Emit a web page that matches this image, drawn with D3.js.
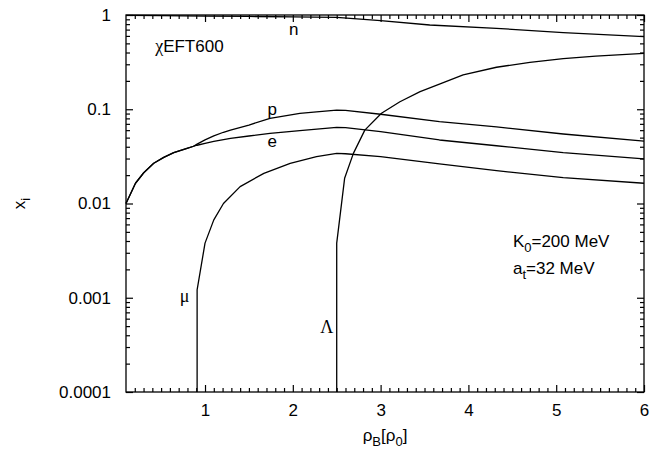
<!DOCTYPE html>
<html>
<head>
<meta charset="utf-8">
<script src="https://cdn.jsdelivr.net/npm/d3@7"></script>
<style>
    body { margin: 0; background: #fff; }
</style>
</head>
<body>
<div class="svg-container"></div>
<script>
// data (rho_B in units of rho_0, particle fractions x_i)
var nX = [0.1, 0.5, 1.0, 1.5, 2.0, 2.5, 3.0, 3.56, 4.32, 5.08, 6.0];
var nY = [0.99, 0.985, 0.975, 0.965, 0.955, 0.945, 0.87, 0.783, 0.722, 0.649, 0.589];

var pX = [0.1, 0.208, 0.302, 0.416, 0.53, 0.644, 0.795, 0.87, 0.91, 1.0, 1.1, 1.21, 1.29, 1.5, 1.74, 2.08, 2.27, 2.5, 2.6, 3.0, 3.67, 4.32, 5.08, 6.0];
var pY = [0.01, 0.0164, 0.0212, 0.0267, 0.0309, 0.0346, 0.0385, 0.0405, 0.0427, 0.0473, 0.0522, 0.057, 0.0602, 0.068, 0.080, 0.0906, 0.094, 0.098, 0.0975, 0.0885, 0.0738, 0.065, 0.0546, 0.046];

var eX = [0.1, 0.208, 0.302, 0.416, 0.53, 0.644, 0.795, 0.87, 0.91, 1.0, 1.1, 1.29, 1.5, 1.74, 2.08, 2.5, 2.6, 3.0, 3.67, 4.32, 5.08, 6.0];
var eY = [0.01, 0.0164, 0.0212, 0.0267, 0.0309, 0.0346, 0.0385, 0.0405, 0.0415, 0.0435, 0.0455, 0.0492, 0.052, 0.0556, 0.0593, 0.0643, 0.0638, 0.0578, 0.0472, 0.041, 0.0346, 0.0297];

var muX = [0.91, 0.91, 1.0, 1.1, 1.21, 1.4, 1.67, 1.97, 2.27, 2.5, 2.6, 3.0, 3.67, 4.32, 5.08, 6.0];
var muY = [0.0001, 0.00121, 0.0038, 0.0067, 0.010, 0.0151, 0.0209, 0.0267, 0.0314, 0.034, 0.0337, 0.0314, 0.0263, 0.0223, 0.0188, 0.0164];

var lamX = [2.5, 2.5, 2.59, 2.69, 2.82, 3.01, 3.22, 3.45, 3.67, 3.94, 4.32, 4.7, 5.08, 5.45, 6.0];
var lamY = [0.0001, 0.0038, 0.0185, 0.034, 0.060, 0.0906, 0.120, 0.154, 0.185, 0.231, 0.279, 0.315, 0.344, 0.367, 0.392];

var xTicks = [1, 2, 3, 4, 5, 6];
var yTicks = [0.0001, 0.001, 0.01, 0.1, 1];
var yTickLabels = ["0.0001", "0.001", "0.01", "0.1", "1"];

// curve labels, placed in data units
var curveLabels = [
    {text: "n", x: 2.01, y: 0.613, greek: false},
    {text: "p", x: 1.765, y: 0.0869, greek: false},
    {text: "e", x: 1.765, y: 0.0401, greek: false},
    {text: "\u03bc", x: 0.768, y: 0.0009, greek: true},
    {text: "\u039b", x: 2.386, y: 0.00042, greek: true}
];

var sans = "'Liberation Sans', Arial, sans-serif",
    serif = "'Liberation Serif', 'DejaVu Serif', serif";

// set up margin
var margin = {top: 15, right: 10, bottom: 59, left: 126},
    width = 654 - margin.left - margin.right,
    height = 451 - margin.top - margin.bottom;

var svg = d3.select(".svg-container").append("svg")
    .attr("width", width + margin.left + margin.right)
    .attr("height", height + margin.top + margin.bottom);

var g = svg.append("g")
    .attr("transform", "translate(" + margin.left + "," + margin.top + ")");

var xScale = d3.scaleLinear().domain([0.1, 6]).range([0, width]);
var yScale = d3.scaleLog().domain([0.0001, 1]).range([height, 0]);

// minor ticks: every 0.1 on x, 2..9 per decade on y
var xMinor = d3.range(2, 60).map(function (i) { return i / 10; })
    .filter(function (v) { return Math.abs(v - Math.round(v)) > 1e-6; });
var yMinor = [];
[0.0001, 0.001, 0.01, 0.1].forEach(function (dec) {
    for (var k = 2; k <= 9; k++) yMinor.push(dec * k);
});

// frame
g.append("rect")
    .attr("width", width)
    .attr("height", height)
    .attr("fill", "none")
    .attr("stroke", "#000")
    .attr("stroke-width", 1.3);

// major + minor ticks on all four sides, pointing inward
function addAxis(axis, tx, ty) {
    var a = g.append("g")
        .attr("transform", "translate(" + tx + "," + ty + ")")
        .call(axis);
    a.select(".domain").remove();
    a.selectAll(".tick line").attr("stroke", "#000").attr("stroke-width", 1.2);
    a.selectAll(".tick text")
        .attr("fill", "#000")
        .attr("font-family", sans)
        .attr("font-size", 17);
    return a;
}

addAxis(d3.axisBottom(xScale).tickValues(xMinor).tickSizeInner(-4).tickSizeOuter(0).tickFormat(""), 0, height);
addAxis(d3.axisTop(xScale).tickValues(xMinor).tickSizeInner(-4).tickSizeOuter(0).tickFormat(""), 0, 0);
addAxis(d3.axisLeft(yScale).tickValues(yMinor).tickSizeInner(-4).tickSizeOuter(0).tickFormat(""), 0, 0);
addAxis(d3.axisRight(yScale).tickValues(yMinor).tickSizeInner(-4).tickSizeOuter(0).tickFormat(""), width, 0);

addAxis(d3.axisBottom(xScale).tickValues(xTicks).tickSizeInner(-7).tickSizeOuter(0).tickPadding(12)
    .tickFormat(d3.format("d")), 0, height);
addAxis(d3.axisTop(xScale).tickValues(xTicks).tickSizeInner(-7).tickSizeOuter(0).tickFormat(""), 0, 0);
addAxis(d3.axisLeft(yScale).tickValues(yTicks).tickSizeInner(-7).tickSizeOuter(0).tickPadding(15)
    .tickFormat(function (d, i) { return yTickLabels[i]; }), 0, 0);
addAxis(d3.axisRight(yScale).tickValues(yTicks).tickSizeInner(-7).tickSizeOuter(0).tickFormat(""), width, 0);

var line = d3.line()
    .x(function (d) { return xScale(d[0]); })
    .y(function (d) { return yScale(d[1]); });

function zip(xs, ys) {
    return xs.map(function (x, i) { return [x, ys[i]]; });
}

var series = [zip(nX, nY), zip(pX, pY), zip(eX, eY), zip(muX, muY), zip(lamX, lamY)];

g.selectAll(".curve")
    .data(series)
    .enter().append("path")
    .attr("class", "curve")
    .attr("fill", "none")
    .attr("stroke", "#000")
    .attr("stroke-width", 1.3)
    .attr("stroke-linejoin", "round")
    .attr("d", line);

g.selectAll(".clabel")
    .data(curveLabels)
    .enter().append("text")
    .attr("class", "clabel")
    .attr("font-family", function (d) { return d.greek ? serif : sans; })
    .attr("font-size", function (d) { return d.greek ? 18 : 17; })
    .attr("x", function (d) { return xScale(d.x); })
    .attr("y", function (d) { return yScale(d.y); })
    .attr("text-anchor", "middle")
    .text(function (d) { return d.text; });

function label(parent, x, y) {
    return parent.append("text")
        .attr("font-family", sans)
        .attr("font-size", 17)
        .attr("fill", "#000")
        .attr("x", x)
        .attr("y", y);
}

// model annotation
var t1 = label(g, xScale(0.432), yScale(0.405));
t1.append("tspan").attr("font-family", serif).attr("font-size", 18).text("\u03c7");
t1.append("tspan").text("EFT600");

var t2 = label(g, xScale(4.507), yScale(0.00348));
t2.append("tspan").text("K");
t2.append("tspan").attr("dy", 5).attr("font-size", 13).text("0");
t2.append("tspan").attr("dy", -5).text("=200 MeV");

var t3 = label(g, xScale(4.507), yScale(0.00179));
t3.append("tspan").text("a");
t3.append("tspan").attr("dy", 5).attr("font-size", 13).text("t");
t3.append("tspan").attr("dy", -5).text("=32 MeV");

// axis titles
var xt = label(svg, margin.left + width / 2, 441).attr("text-anchor", "middle");
xt.append("tspan").text("\u03c1");
xt.append("tspan").attr("dy", 5).attr("font-size", 13).text("B");
xt.append("tspan").attr("dy", -5).text("[\u03c1");
xt.append("tspan").attr("dy", 5).attr("font-size", 13).text("0");
xt.append("tspan").attr("dy", -5).text("]");

var yt = label(svg, 0, 0)
    .attr("transform", "translate(25," + (margin.top + height / 2) + ") rotate(-90)")
    .attr("text-anchor", "middle");
yt.append("tspan").text("x");
yt.append("tspan").attr("dy", 5).attr("font-size", 13).text("i");
</script>
</body>
</html>
